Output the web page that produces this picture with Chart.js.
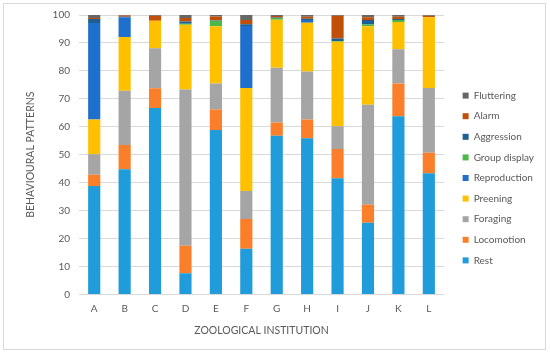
<!DOCTYPE html>
<html>
<head>
<meta charset="utf-8">
<script src="https://cdn.jsdelivr.net/npm/chart.js"></script>
<style>
  html, body { margin: 0; padding: 0; background: #fff; }
  #wrap { position: absolute; left: 3px; top: 3px; width: 543px; height: 347px; border: 1px solid #d9d9d9; box-sizing: border-box; }
  #box { position: absolute; left: 0; top: 0; width: 550px; height: 353px; }
</style>
</head>
<body>
<div id="wrap"></div>
<div id="box"><canvas id="behaviourChart" width="550" height="353"></canvas></div>
<script>
const institutions = ['A', 'B', 'C', 'D', 'E', 'F', 'G', 'H', 'I', 'J', 'K', 'L'];

const rest         = [38.8, 44.8, 66.7,  7.6, 58.8, 16.3, 56.8, 55.9, 41.6, 25.6, 63.8, 43.4];
const locomotion   = [ 4.0,  8.7,  7.1,  9.8,  7.4, 10.7,  4.7,  6.7, 10.4,  6.5, 11.7,  7.3];
const foraging     = [ 7.4, 19.4, 14.3, 55.9,  9.3, 10.0, 19.6, 17.2,  8.2, 35.8, 12.2, 23.2];
const preening     = [12.4, 19.2,  9.8, 23.2, 20.5, 36.9, 17.2, 17.4, 30.2, 28.1,  9.8, 25.3];
const reproduction = [34.5,  7.1,  0.0,  0.0,  0.0, 22.2,  0.0,  1.0,  0.0,  0.0,  0.0,  0.0];
const groupDisplay = [ 0.0,  0.0,  0.0,  0.4,  1.9,  0.0,  0.6,  0.0,  0.3,  0.6,  0.7,  0.0];
const aggression   = [ 1.5,  0.2,  0.0,  0.8,  0.2,  0.6,  0.2,  0.5,  0.9,  1.6,  0.4,  0.0];
const alarm        = [ 0.3,  0.4,  1.8,  1.2,  1.4,  1.5,  0.5,  0.7,  8.1,  1.0,  0.8,  0.5];
const fluttering   = [ 1.1,  0.2,  0.3,  1.1,  0.5,  1.8,  0.4,  0.6,  0.3,  0.8,  0.6,  0.3];

const yTicks = [0, 10, 20, 30, 40, 50, 60, 70, 80, 90, 100];

const series = [
    { label: 'Rest', data: rest, color: '#1f9cd9' },
    { label: 'Locomotion', data: locomotion, color: '#fb7f2a' },
    { label: 'Foraging', data: foraging, color: '#a5a5a5' },
    { label: 'Preening', data: preening, color: '#ffc000' },
    { label: 'Reproduction', data: reproduction, color: '#1f70cc' },
    { label: 'Group display', data: groupDisplay, color: '#4db748' },
    { label: 'Aggression', data: aggression, color: '#1d5f91' },
    { label: 'Alarm', data: alarm, color: '#c04f0a' },
    { label: 'Fluttering', data: fluttering, color: '#666666' }
];

const textColor = '#595959';
const fontFamily = 'Lato, "Open Sans", sans-serif';

// move the legend a little away from the plot, like the original
const nudgeLegend = {
    id: 'nudgeLegend',
    afterLayout(chart) {
        const lg = chart.legend;
        if (!lg) return;
        lg.left += 8; lg.right += 8;
    }
};

new Chart(document.getElementById('behaviourChart'), {
    type: 'bar',
    data: {
        labels: institutions,
        datasets: series.map(s => ({
            label: s.label,
            data: s.data,
            backgroundColor: s.color,
            borderWidth: 0,
            barPercentage: 0.4,
            categoryPercentage: 1.0
        }))
    },
    plugins: [nudgeLegend],
    options: {
        responsive: false,
        animation: false,
        layout: { padding: { left: 20, right: 14, top: 15, bottom: 12 } },
        scales: {
            x: {
                stacked: true,
                grid: { display: false, drawTicks: false },
                border: { display: false },
                ticks: { color: textColor, font: { family: fontFamily, size: 10 }, padding: 8 },
                title: { display: true, text: 'ZOOLOGICAL INSTITUTION', color: textColor, font: { family: fontFamily, size: 10.5 }, padding: { top: 2, bottom: 4 } }
            },
            y: {
                stacked: true,
                min: 0,
                max: 100,
                afterBuildTicks: axis => { axis.ticks = yTicks.map(v => ({ value: v })); },
                grid: { color: '#d9d9d9', drawTicks: false },
                border: { display: false },
                ticks: { color: textColor, font: { family: fontFamily, size: 10 }, padding: 9 },
                title: { display: true, text: 'BEHAVIOURAL PATTERNS', color: textColor, font: { family: fontFamily, size: 10.5 }, padding: { top: 4, bottom: 7 } }
            }
        },
        plugins: {
            legend: {
                position: 'right',
                reverse: true,
                labels: {
                    color: textColor,
                    font: { family: fontFamily, size: 10 },
                    boxWidth: 6,
                    boxHeight: 6,
                    padding: 10.6
                }
            },
            tooltip: { enabled: false }
        }
    }
});
</script>
</body>
</html>
